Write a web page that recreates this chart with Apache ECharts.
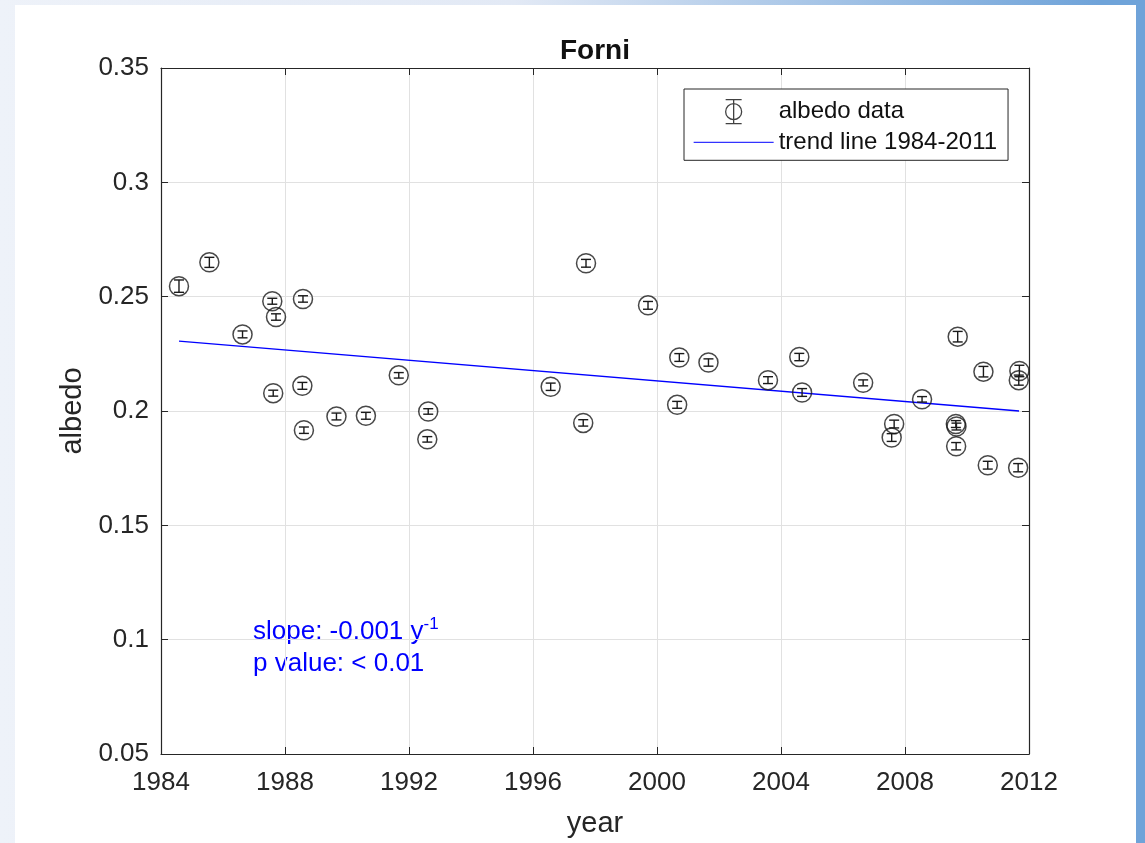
<!DOCTYPE html>
<html>
<head>
<meta charset="utf-8">
<script src="https://cdn.jsdelivr.net/npm/echarts@6/dist/echarts.min.js"></script>
<style>
  html, body { margin: 0; padding: 0; width: 1145px; height: 843px; overflow: hidden; }
  body { background: linear-gradient(90deg, #eef2f9 0%, #e2e9f5 45%, #6fa3d9 96%); position: relative; }
  #main { position: absolute; left: 15px; top: 5px; width: 1121px; height: 838px; background: #fff; }
</style>
</head>
<body>
<div id="main"></div>
<script>
// albedo measurements (decimal year, albedo, error half-width)
const years = [1984.58, 1985.56, 1986.63, 1987.59, 1987.71, 1987.62, 1988.58, 1988.56, 1988.61,
  1989.66, 1990.61, 1991.67, 1992.62, 1992.59, 1996.57, 1997.71, 1997.62, 1999.71, 2000.72,
  2000.65, 2001.66, 2003.58, 2004.59, 2004.68, 2006.65, 2007.65, 2007.57, 2008.55, 2009.70,
  2009.64, 2009.66, 2009.65, 2010.53, 2010.67, 2011.69, 2011.67, 2011.65];
const albedo = [0.2546, 0.2650, 0.2335, 0.2480, 0.2411, 0.2078, 0.2490, 0.2110, 0.1916,
  0.1976, 0.1979, 0.2156, 0.1998, 0.1876, 0.2106, 0.2646, 0.1948, 0.2462, 0.2234,
  0.2027, 0.2212, 0.2135, 0.2236, 0.2081, 0.2123, 0.1943, 0.1884, 0.2051, 0.2325,
  0.1943, 0.1932, 0.1846, 0.2172, 0.1763, 0.2175, 0.2135, 0.1752];
const errors = [0.0027, 0.0022, 0.0015, 0.0013, 0.0014, 0.0013, 0.0014, 0.0015, 0.0014,
  0.0015, 0.0015, 0.0012, 0.0012, 0.0012, 0.0016, 0.0017, 0.0014, 0.0017, 0.0017,
  0.0015, 0.0016, 0.0015, 0.0016, 0.0017, 0.0013, 0.0017, 0.0017, 0.0012, 0.0023,
  0.0015, 0.0015, 0.0016, 0.0023, 0.0017, 0.0025, 0.0022, 0.0018];

const trendYears = [1984.58, 2011.68];
const trendValues = [0.2306, 0.2000];

const xTicks = [1984, 2012, 4];        // min, max, interval
const yTicks = [0.05, 0.35, 0.05];

const font = 'Liberation Sans, Arial, Helvetica, sans-serif';
const ink = '#262626';

const chart = echarts.init(document.getElementById('main'));

const points = years.map((y, i) => [y, albedo[i]]);
const bars = years.map((y, i) => [y, albedo[i] - errors[i], albedo[i] + errors[i]]);
const trend = trendYears.map((y, i) => [y, trendValues[i]]);

function axisX(pos, labels) {
  return {
    type: 'value', position: pos, min: xTicks[0], max: xTicks[1], interval: xTicks[2],
    axisLine: { show: true, onZero: false, lineStyle: { color: ink, width: 1.2 } },
    axisTick: { show: true, inside: true, length: 7, lineStyle: { color: ink } },
    axisLabel: { show: labels, color: ink, fontSize: 26, fontFamily: font, margin: 16,
      formatter: v => String(v) },
    splitLine: { show: labels, lineStyle: { color: '#e1e1e1', width: 1 } }
  };
}
function axisY(pos, labels) {
  return {
    type: 'value', position: pos, min: yTicks[0], max: yTicks[1], interval: yTicks[2],
    axisLine: { show: true, onZero: false, lineStyle: { color: ink, width: 1.2 } },
    axisTick: { show: true, inside: true, length: 7, lineStyle: { color: ink } },
    axisLabel: { show: labels, color: ink, fontSize: 26, fontFamily: font, margin: 12 },
    splitLine: { show: labels, lineStyle: { color: '#e1e1e1', width: 1 } }
  };
}

const xBottom = axisX('bottom', true);
xBottom.name = 'year';
xBottom.nameLocation = 'middle';
xBottom.nameGap = 55;
xBottom.nameTextStyle = { color: ink, fontSize: 29, fontFamily: font };
const yLeft = axisY('left', true);
yLeft.name = 'albedo';
yLeft.nameLocation = 'middle';
yLeft.nameGap = 74;
yLeft.nameTextStyle = { color: ink, fontSize: 29, fontFamily: font };

const option = {
  animation: false,
  title: {
    text: 'Forni', left: 545, top: 32, padding: 0,
    textStyle: { fontSize: 28, fontWeight: 'bold', color: '#111', fontFamily: font }
  },
  grid: { left: 146, right: 107, top: 63, bottom: 89 },
  xAxis: [xBottom, axisX('top', false)],
  yAxis: [yLeft, axisY('right', false)],
  legend: {
    left: 669, top: 84, orient: 'vertical',
    backgroundColor: '#fff', borderColor: ink, borderWidth: 1,
    padding: [9, 11, 6, 9], itemWidth: 80, itemHeight: 26, itemGap: 5,
    textStyle: { color: '#111', fontSize: 24, fontFamily: font },
    data: [
      {
        name: 'albedo data',
        icon: 'path://M0,0 M80,26 M48,13 A8,8 0 1,1 32,13 A8,8 0 1,1 48,13 M40,1 L40,25 M32,1 L48,1 M32,25 L48,25',
        itemStyle: { color: 'rgba(0,0,0,0)', borderColor: '#111', borderWidth: 1.3 }
      },
      {
        name: 'trend line 1984-2011',
        itemStyle: { opacity: 0 },
        lineStyle: { color: '#3333ff', width: 1.2 }
      }
    ]
  },
  graphic: [{
    type: 'text', left: 238, top: 611,
    style: {
      text: '{a|slope: -0.001 y}{s|-1}\n{a|p value: < 0.01}',
      fill: '#0000ff',
      rich: {
        a: { fontSize: 26, lineHeight: 32, fontFamily: font, fill: '#0000ff', color: '#0000ff' },
        s: { fontSize: 17, lineHeight: 16, verticalAlign: 'top', fontFamily: font, fill: '#0000ff', color: '#0000ff' }
      }
    }
  }],
  series: [
    {
      type: 'custom', name: 'error bars', data: bars, z: 3,
      renderItem: function (params, api) {
        const lo = api.coord([api.value(0), api.value(1)]);
        const hi = api.coord([api.value(0), api.value(2)]);
        const w = 5;
        const st = { stroke: '#1a1a1a', lineWidth: 1.4 };
        return {
          type: 'group',
          children: [
            { type: 'line', shape: { x1: lo[0], y1: lo[1], x2: hi[0], y2: hi[1] }, style: st },
            { type: 'line', shape: { x1: lo[0] - w, y1: lo[1], x2: lo[0] + w, y2: lo[1] }, style: st },
            { type: 'line', shape: { x1: hi[0] - w, y1: hi[1], x2: hi[0] + w, y2: hi[1] }, style: st }
          ]
        };
      }
    },
    {
      type: 'scatter', name: 'albedo data', data: points, z: 4,
      symbol: 'circle', symbolSize: 19,
      itemStyle: { color: 'rgba(0,0,0,0)', borderColor: '#1a1a1a', borderWidth: 1.5 }
    },
    {
      type: 'line', name: 'trend line 1984-2011', data: trend, z: 2,
      symbol: 'none', color: '#0000ff',
      lineStyle: { color: '#0000ff', width: 1.3 }
    }
  ]
};

chart.setOption(option);
</script>
</body>
</html>
